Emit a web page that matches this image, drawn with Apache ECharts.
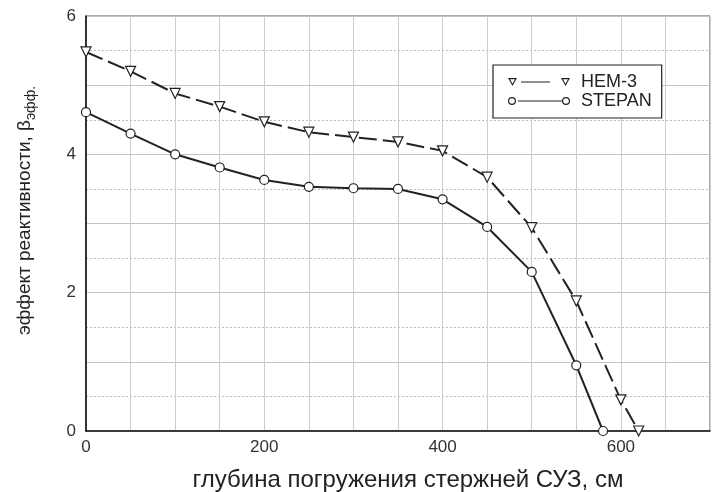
<!DOCTYPE html>
<html>
<head>
<meta charset="utf-8">
<script src="https://cdn.jsdelivr.net/npm/echarts@6/dist/echarts.min.js"></script>
<style>
  html, body { margin: 0; padding: 0; background: #fff; }
  #chart { width: 712px; height: 492px; }
</style>
</head>
<body>
<div id="chart"></div>
<script>
// Rod insertion depth, cm
const hemDepth = [0, 50, 100, 150, 200, 250, 300, 350, 400, 450, 500, 550, 600, 620];
const hemValues = [5.48, 5.20, 4.88, 4.69, 4.47, 4.32, 4.25, 4.18, 4.05, 3.67, 2.94, 1.88, 0.45, 0.0];

const stepanDepth = [0, 50, 100, 150, 200, 250, 300, 350, 400, 450, 500, 550, 580];
const stepanValues = [4.61, 4.30, 4.00, 3.81, 3.63, 3.53, 3.51, 3.50, 3.35, 2.95, 2.30, 0.95, 0.0];

const seriesNames = ['HEM-3', 'STEPAN'];
const xTickLabels = [0, 200, 400, 600];
const yTickLabels = [0, 2, 4, 6];

const ink = '#222';
const fontFamily = 'Liberation Sans, Arial, sans-serif';

function pairs(xs, ys) {
  return xs.map((x, i) => [x, ys[i]]);
}

// Legend keys: hollow marker, line, hollow marker (holes via reversed winding)
const triKey =
  'path://M0 1 L9 1 L4.5 9 Z M2 2.2 L4.5 6.8 L7 2.2 Z ' +
  'M13 4.4 L42 4.4 L42 5.6 L13 5.6 Z ' +
  'M53 1 L62 1 L57.5 9 Z M55 2.2 L57.5 6.8 L60 2.2 Z';
const circKey =
  'path://M8 5 A4 4 0 1 1 0 5 A4 4 0 1 1 8 5 Z ' +
  'M6.8 5 A2.8 2.8 0 1 0 1.2 5 A2.8 2.8 0 1 0 6.8 5 Z ' +
  'M10 4.4 L54 4.4 L54 5.6 L10 5.6 Z ' +
  'M62 5 A4 4 0 1 1 54 5 A4 4 0 1 1 62 5 Z ' +
  'M60.8 5 A2.8 2.8 0 1 0 55.2 5 A2.8 2.8 0 1 0 60.8 5 Z';

const chart = echarts.init(document.getElementById('chart'), null, { renderer: 'canvas' });

chart.setOption({
  animation: false,
  backgroundColor: '#fff',
  textStyle: { fontFamily: fontFamily },
  grid: {
    left: 86, right: 2, top: 16, bottom: 61,
    containLabel: false,
    outerBoundsMode: 'none',
    show: true, borderColor: '#555', borderWidth: 1, backgroundColor: 'transparent'
  },
  legend: {
    orient: 'vertical',
    left: 493, top: 65,
    padding: [8, 10, 8, 15],
    itemWidth: 62, itemHeight: 10,
    itemGap: 1,
    borderColor: '#222', borderWidth: 1.2,
    backgroundColor: '#fff',
    textStyle: { fontSize: 18, color: '#222', fontFamily: fontFamily, padding: [0, 0, 0, 6] },
    data: [
      { name: seriesNames[0], icon: triKey, itemStyle: { color: ink, borderWidth: 0 } },
      { name: seriesNames[1], icon: circKey, itemStyle: { color: ink, borderWidth: 0 } }
    ]
  },
  xAxis: {
    type: 'value',
    min: 0, max: 700, interval: 50,
    name: 'глубина погружения стержней СУЗ, см',
    nameLocation: 'middle',
    nameGap: 37,
    nameTextStyle: { fontSize: 24, color: '#222', fontFamily: fontFamily, padding: [0, 0, 0, 20] },
    axisLine: { show: true, onZero: false, lineStyle: { color: '#111', width: 1.6 } },
    axisTick: { show: false },
    axisLabel: {
      fontSize: 17, color: '#333', margin: 8,
      formatter: v => (xTickLabels.indexOf(v) >= 0 ? String(v) : '')
    },
    splitLine: { show: true, lineStyle: { color: '#cdcdcd', width: 1 } }
  },
  yAxis: {
    type: 'value',
    min: 0, max: 6, interval: 1,
    name: 'эффект реактивности, β{sub|эфф.}',
    nameLocation: 'middle',
    nameGap: 48,
    nameRotate: 90,
    nameTextStyle: {
      fontSize: 19, color: '#222', fontFamily: fontFamily,
      padding: [0, 0, 0, 26],
      rich: {
        sub: { fontSize: 14, color: '#222', fontFamily: fontFamily, verticalAlign: 'bottom', padding: [12, 0, 0, 0] }
      }
    },
    axisLine: { show: true, onZero: false, lineStyle: { color: '#111', width: 1.6 } },
    axisTick: { show: false },
    axisLabel: {
      fontSize: 17, color: '#333', margin: 10,
      formatter: v => (yTickLabels.indexOf(v) >= 0 ? String(v) : '')
    },
    splitLine: { show: true, lineStyle: { color: '#c4c4c4', width: 1 } },
    minorTick: { show: false, splitNumber: 2 },
    minorSplitLine: { show: true, lineStyle: { color: '#bdbdbd', width: 1, type: [2, 2] } }
  },
  series: [
    {
      name: seriesNames[0],
      type: 'line',
      data: pairs(hemDepth, hemValues),
      symbol: 'triangle',
      symbolRotate: 180,
      symbolSize: 10,
      itemStyle: { color: '#fff', borderColor: ink, borderWidth: 1.2 },
      lineStyle: { color: ink, width: 2, type: [18, 6] },
      z: 3
    },
    {
      name: seriesNames[1],
      type: 'line',
      data: pairs(stepanDepth, stepanValues),
      symbol: 'circle',
      symbolSize: 9,
      itemStyle: { color: '#fff', borderColor: ink, borderWidth: 1.2 },
      lineStyle: { color: ink, width: 2 },
      z: 3
    }
  ]
});
</script>
</body>
</html>
